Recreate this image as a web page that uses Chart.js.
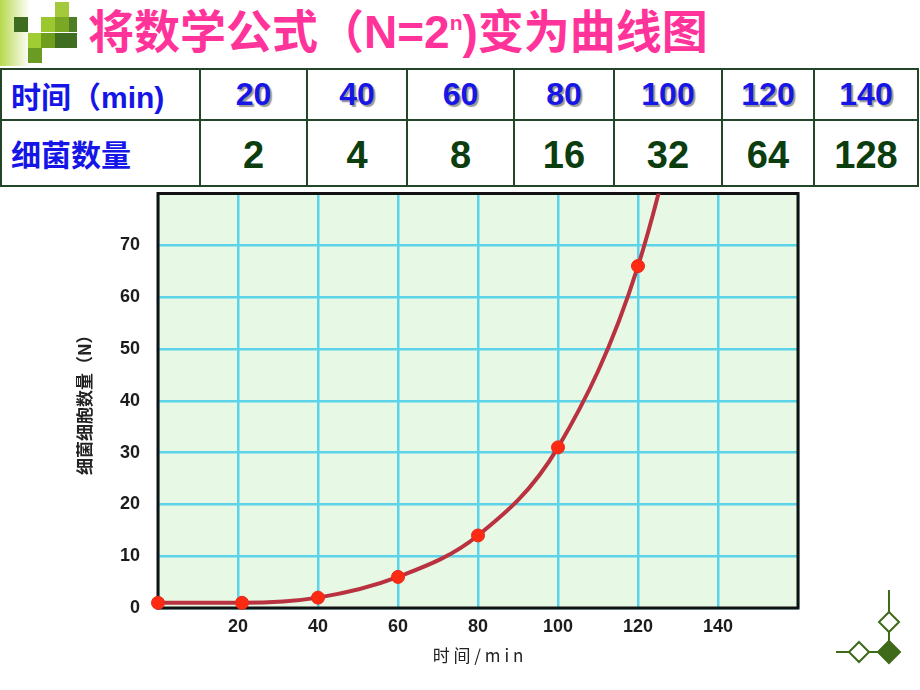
<!DOCTYPE html>
<html>
<head>
<meta charset="utf-8">
<script src="https://cdn.jsdelivr.net/npm/chart.js@4"></script>
<style>
  html, body { margin:0; padding:0; background:#ffffff; }
  body { width:920px; height:690px; position:relative; overflow:hidden;
         font-family:"Liberation Sans","Noto Sans CJK SC",Arial,sans-serif; }
  .grad { position:absolute; left:0; top:0; width:30px; height:66px;
          background:linear-gradient(to right,#b7d94c,#ffffff); }
  .sq { position:absolute; width:14px; height:15px; }
  #title { position:absolute; left:88px; top:4px; margin:0; font-size:46px; font-weight:bold;
           color:#ff3399; white-space:nowrap; line-height:56px;
           font-family:"Liberation Sans","Noto Sans CJK SC",sans-serif; }
  #title sup { font-size:21px; vertical-align:0; position:relative; top:-18px; }
  table { position:absolute; left:0; top:68px; border-collapse:collapse; table-layout:fixed; }
  td { border:2px solid #23462a; padding:0; text-align:center; font-weight:bold; }
  tr.r1 td { height:49px; }
  tr.r2 td { height:60px; }
  td.lab { text-align:left; padding-left:9px; color:#1515e8; font-size:30px;
           font-family:"Liberation Sans","Noto Sans CJK SC",sans-serif; }
  tr.r1 td.num { color:#1616e6; font-size:32px; text-shadow:2px 2px 1px #9a9a9a; }
  tr.r2 td.num { color:#0b3d0f; font-size:38px; padding-top:4px; }
  #wrap { position:absolute; left:40px; top:186px; width:800px; height:490px; }
  #deco { position:absolute; left:820px; top:570px; }
</style>
</head>
<body>
<div class="grad"></div>
<div class="sq" style="left:14px;top:17px;background:#3d6b1f;"></div>
<div class="sq" style="left:55px;top:2px;background:#a4c93a;"></div>
<div class="sq" style="left:41px;top:17px;background:#9cc72e;"></div>
<div class="sq" style="left:55px;top:17px;background:#7aa724;"></div>
<div class="sq" style="left:69px;top:17px;width:8px;background:#4e7c27;"></div>
<div class="sq" style="left:28px;top:33px;background:#a0cd34;"></div>
<div class="sq" style="left:41px;top:33px;background:#6e9e1c;"></div>
<div class="sq" style="left:55px;top:33px;width:22px;background:#3f6e21;"></div>
<div class="sq" style="left:28px;top:48px;background:#6a9b22;"></div>

<h1 id="title">将数学公式（N=2<sup>n</sup>)变为曲线图</h1>

<table id="tbl">
  <colgroup>
    <col style="width:199px"><col style="width:107px"><col style="width:100px"><col style="width:107px">
    <col style="width:100px"><col style="width:108px"><col style="width:92px"><col style="width:104px">
  </colgroup>
  <tr class="r1" id="row1"><td class="lab">时间（min)</td></tr>
  <tr class="r2" id="row2"><td class="lab">细菌数量</td></tr>
</table>

<div id="wrap"><canvas id="c" width="800" height="490"></canvas></div>

<svg id="deco" width="100" height="110" viewBox="0 0 100 110">
  <g stroke="#3f6a1a" stroke-width="2" fill="none">
    <line x1="69" y1="20" x2="69" y2="82"/>
    <line x1="16" y1="82" x2="69" y2="82"/>
    <polygon points="69,42 79,52 69,62 59,52" fill="#ffffff"/>
    <polygon points="39,72 49,82 39,92 29,82" fill="#ffffff"/>
    <polygon points="69,71 80,82 69,93 58,82" fill="#3f6a1a"/>
  </g>
</svg>

<script>
// ---- data ----
const tableTimes = [20, 40, 60, 80, 100, 120, 140];      // 时间（min)
const tableCounts = [2, 4, 8, 16, 32, 64, 128];           // 细菌数量
const curveTimes = [0, 21, 40, 60, 80, 100, 120, 140];    // plotted x (min)
const curveCounts = [1, 1, 2, 6, 14, 31, 66, 128];        // plotted N
const markerShown = [true, true, true, true, true, true, true, false];

// ---- table ----
const row1 = document.getElementById('row1');
const row2 = document.getElementById('row2');
tableTimes.forEach(t => { const td = document.createElement('td'); td.className = 'num'; td.textContent = t; row1.appendChild(td); });
tableCounts.forEach(n => { const td = document.createElement('td'); td.className = 'num'; td.textContent = n; row2.appendChild(td); });

// ---- chart ----
const plotFrame = {
  id: 'plotFrame',
  beforeDraw(chart) {
    const a = chart.chartArea, ctx = chart.ctx;
    ctx.save();
    ctx.fillStyle = '#e7f8e5';
    ctx.fillRect(a.left, a.top, a.right - a.left, a.bottom - a.top);
    ctx.restore();
  },
  beforeDatasetsDraw(chart) {
    const a = chart.chartArea, ctx = chart.ctx;
    ctx.save();
    ctx.strokeStyle = '#111111';
    ctx.lineWidth = 3;
    ctx.strokeRect(a.left, a.top, a.right - a.left, a.bottom - a.top);
    ctx.restore();
  }
};

const tickFont = { family: '"Liberation Sans", Arial, sans-serif', size: 18, weight: 'bold' };

new Chart(document.getElementById('c'), {
  type: 'line',
  data: {
    datasets: [{
      data: curveTimes.map((x, i) => ({ x: x, y: curveCounts[i] })),
      borderColor: '#b9323f',
      borderWidth: 4,
      cubicInterpolationMode: 'monotone',
      pointRadius: markerShown.map(s => s ? 6.5 : 0),
      pointBackgroundColor: '#ff2a12',
      pointBorderColor: '#e8281a',
      pointBorderWidth: 1,
      clip: { left: 12, top: 0, right: 0, bottom: 12 }
    }]
  },
  options: {
    responsive: false,
    animation: false,
    devicePixelRatio: 1,
    layout: { padding: { top: 6, right: 42, left: 0, bottom: 0 } },
    plugins: { legend: { display: false }, tooltip: { enabled: false } },
    scales: {
      x: {
        type: 'linear', min: 0, max: 160,
        afterFit(s) { s.height = 68; s.paddingLeft = 0; s.paddingRight = 0; s.paddingTop = 0; s.paddingBottom = 0; },
        grid: { color: '#5dd3ea', lineWidth: 2.5, drawTicks: false },
        border: { display: false },
        ticks: {
          stepSize: 20, padding: 8, color: '#1c1c1c', font: tickFont,
          callback: v => (v === 0 || v === 160) ? '' : v
        },
        title: {
          display: true, text: '时 间 / m i n', color: '#222222',
          font: { family: '"Noto Sans CJK SC", sans-serif', size: 17 },
          padding: { top: 0, bottom: 10 }
        }
      },
      y: {
        min: 0, max: 80,
        afterFit(s) { s.width = 118; s.paddingTop = 0; s.paddingBottom = 0; s.paddingLeft = 0; s.paddingRight = 0; },
        grid: { color: '#5dd3ea', lineWidth: 2.5, drawTicks: false },
        border: { display: false },
        ticks: {
          stepSize: 10, padding: 18, color: '#1c1c1c', font: tickFont,
          callback: v => v === 80 ? '' : v
        },
        title: {
          display: true, text: '细菌细胞数量（N）', color: '#222222',
          font: { family: '"Noto Sans CJK SC", sans-serif', size: 17, weight: 'bold' },
          padding: { top: 34, bottom: 0 }
        }
      }
    }
  },
  plugins: [plotFrame]
});
</script>
</body>
</html>
